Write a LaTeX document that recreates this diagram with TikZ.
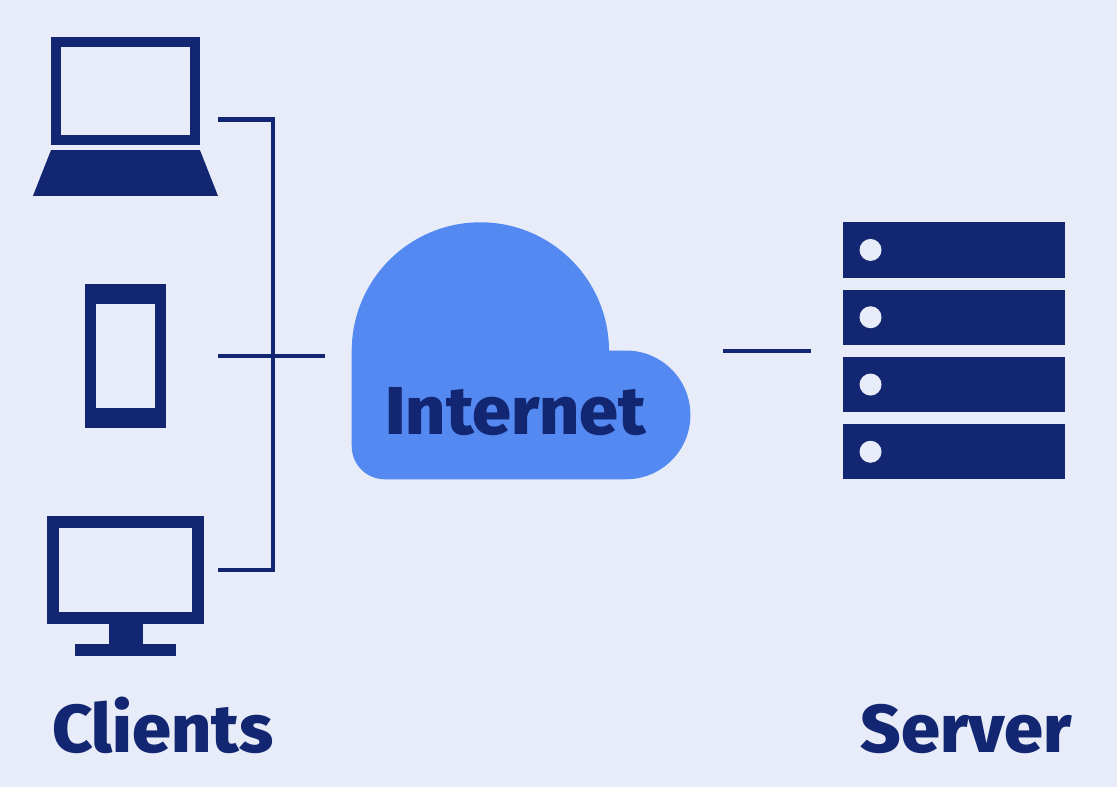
\documentclass[tikz,border=0pt]{standalone}
\usepackage{fontspec}
\setmainfont{Fira Sans}
\newfontfamily\etiqfont[FakeStretch=1.035]{Fira Sans ExtraBold}
\usepackage{xcolor}
\usepackage{tikz}
\usetikzlibrary{positioning}
\definecolor{navy}{RGB}{19,38,113}
\definecolor{fondo}{RGB}{231,236,248}
\definecolor{nube}{RGB}{83,137,241}
\tikzset{
  solido/.style={rectangle, fill=navy, draw=none, inner sep=0pt},
  hueco/.style={rectangle, fill=fondo, draw=none, inner sep=0pt},
  bandeja/.style={solido, minimum width=4.452cm, minimum height=1.106cm},
  led/.style={circle, fill=fondo, draw=none, inner sep=0pt, minimum size=4.4mm},
  cable/.style={draw=navy, line width=0.086cm, line join=miter},
  etiq/.style={anchor=base, text=navy, inner sep=0pt, font=\fontsize{38.5}{40}\selectfont\etiqfont}
}
\begin{document}
\begin{tikzpicture}[x=0.02cm, y=0.02cm]
  \node[hueco, anchor=south west, minimum width=22.34cm, minimum height=15.74cm] (fondo) at (0,0) {};
  % clients
  \node[solido, minimum width=2.98cm, minimum height=2.16cm] (laptop) at (125.8,696) {};
  \node[hueco, minimum width=2.58cm, minimum height=1.754cm] (laptopscreen) at (laptop) {};
  \fill[navy] (51.3,637) -- (200.3,637) -- (218.3,591.3) -- (33.3,591.3) -- cycle;
  \node[solido, minimum width=1.612cm, minimum height=2.88cm] (phone) at (126,431.3) {};
  \node[hueco, minimum width=1.172cm, minimum height=2.074cm] (phonescreen) at (126,431.15) {};
  \node[solido, minimum width=3.14cm, minimum height=2.16cm] (monitor) at (125.8,217.3) {};
  \node[hueco, minimum width=2.668cm, minimum height=1.688cm] (monitorscreen) at (monitor) {};
  \node[solido, minimum width=0.68cm, minimum height=0.41cm] (stand) at (126,153.5) {};
  \node[solido, minimum width=2.028cm, minimum height=0.24cm] (foot) at (126,137.7) {};
  % cloud
  \fill[nube] (352,436.3) arc[start angle=180, end angle=0, radius=2.573cm]
    -- (609.3,436.7) -- (626.3,436.7) arc[start angle=90, end angle=-90, radius=1.287cm]
    -- (385,308) arc[start angle=270, end angle=180, radius=0.66cm] -- cycle;
  \node[etiq] (internet) at (516,352.7) {Internet};
  % server
  \node[bandeja] (row1) at (954,537.3) {};
  \node[bandeja] (row2) at (954,470) {};
  \node[bandeja] (row3) at (954,402.8) {};
  \node[bandeja] (row4) at (954,335.6) {};
  \node[led] (led1) at (870.7,537.3) {};
  \node[led] (led2) at (870.7,470) {};
  \node[led] (led3) at (870.7,402.7) {};
  \node[led] (led4) at (870.7,335.5) {};
  % wires
  \coordinate (laptopport) at (218.3,667.7);
  \coordinate (phoneport) at (218.3,431.3);
  \coordinate (monitorport) at (218.3,217.3);
  \coordinate (bustop) at (273.3,667.7);
  \coordinate (busbottom) at (273.3,217.3);
  \coordinate (cloudin) at (325,431.3);
  \coordinate (cloudout) at (723.5,436);
  \coordinate (serverport) at (811.5,436);
  \draw[cable] (laptopport) -- (bustop) -- (busbottom) -- (monitorport);
  \draw[cable] (phoneport) -- (cloudin);
  \draw[cable] (cloudout) -- (serverport);
  % labels
  \node[etiq] (clients) at (163,35.3) {Clients};
  \node[etiq] (server) at (966.5,35.3) {Server};
\end{tikzpicture}
\end{document}
